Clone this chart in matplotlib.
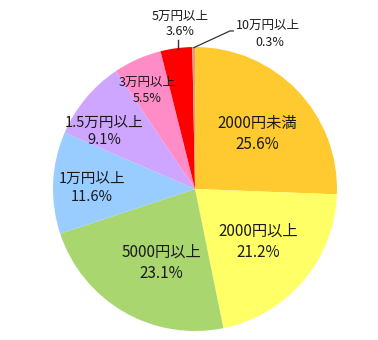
import numpy as np
import matplotlib
matplotlib.use("Agg")
import matplotlib.pyplot as plt

plt.rcParams['font.family'] = ['Noto Sans CJK JP', 'DejaVu Sans']

categories = ['2000円未満', '2000円以上', '5000円以上', '1万円以上',
              '1.5万円以上', '3万円以上', '5万円以上', '10万円以上']
values = [25.6, 21.2, 23.1, 11.6, 9.1, 5.5, 3.6, 0.3]
colors = ['#FFCA30', '#FFFF66', '#A9D66F', '#99CCFF',
          '#CEA6FF', '#FF8CC6', '#FF0000', '#D9A088']

# label anchor positions (axes data units, radius = 1) and font sizes
label_pos = [(0.44, 0.39), (0.444, -0.373), (-0.236, -0.521),
             (-0.725, 0.007), (-0.637, 0.408), (-0.338, 0.697)]
label_fs = [11, 11, 11, 10.5, 10.5, 9]

fig = plt.figure(figsize=(3.78, 3.40), dpi=100)
R = 142
cx, cy = 195, 189
ax = fig.add_axes([(cx - R) / 378, 1 - (cy + R) / 340, 2 * R / 378, 2 * R / 340])
wedges, _ = ax.pie(values, colors=colors, startangle=90, counterclock=False,
                   wedgeprops=dict(linewidth=0), radius=1.0)
ax.set_xlim(-1, 1)
ax.set_ylim(-1, 1)
ax.set_aspect('equal')
ax.axis('off')

tc = '#1a1a1a'
for i, w in enumerate(wedges):
    mid = np.deg2rad((w.theta1 + w.theta2) / 2)
    txt = f"{categories[i]}\n{values[i]:.1f}%"
    if i < 6:
        x, y = label_pos[i]
        ax.text(x, y, txt, ha='center', va='center',
                fontsize=label_fs[i], color=tc, linespacing=1.3)
    elif i == 6:
        ax.plot([-0.12, -0.12], [0.985, 1.05], color='#333333', lw=1.0,
                clip_on=False)
        ax.text(-0.106, 1.218, categories[i], ha='center', va='center', fontsize=9,
                color=tc)
        ax.text(-0.106, 1.106, f"{values[i]:.1f}%", ha='center', va='center',
                fontsize=9, color=tc)
    else:
        x0, y0 = np.cos(mid), np.sin(mid)
        ax.plot([x0 * 0.995, 0.246, 0.27], [y0 * 0.995, 1.113, 1.113],
                color='#333333', lw=0.9, clip_on=False)
        ax.text(0.29, 1.155, categories[i], ha='left', va='center', fontsize=9,
                color=tc)
        ax.text(0.528, 1.03, f"{values[i]:.1f}%", ha='center', va='center',
                fontsize=9, color=tc)

fig.savefig('out.png', dpi=100)
